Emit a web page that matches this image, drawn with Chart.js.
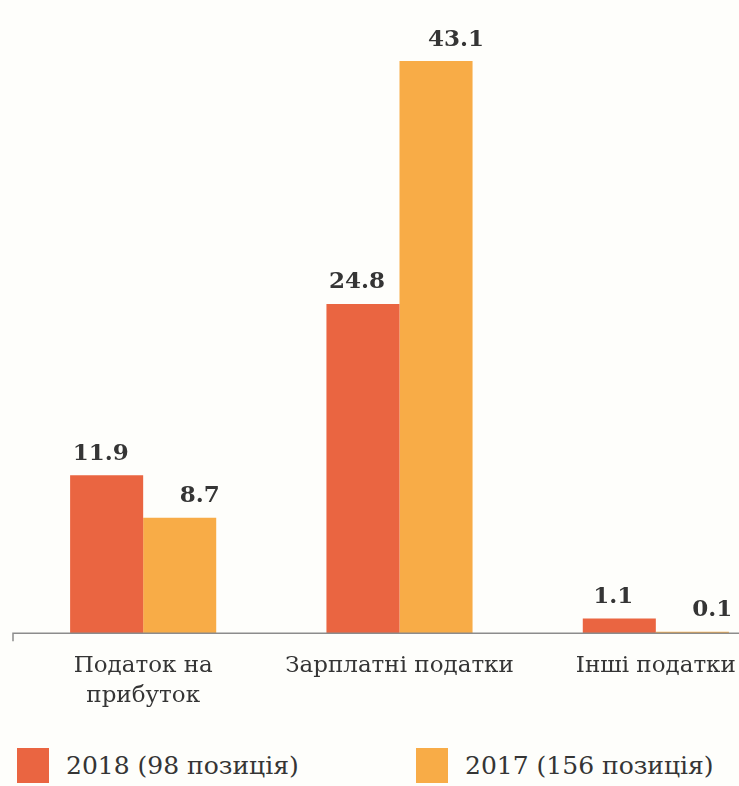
<!DOCTYPE html>
<html>
<head>
<meta charset="utf-8">
<script src="https://cdn.jsdelivr.net/npm/chart.js@4.4.1/dist/chart.umd.min.js"></script>
<style>
  html, body { margin: 0; padding: 0; background: #fefefb; overflow: hidden; width: 739px; height: 786px; }
  #wrap { position: absolute; left: 0; top: 0; width: 784px; height: 724px; }
  #legend { position: absolute; left: 0; top: 747px; width: 739px; height: 38px; }
  .item { position: absolute; top: 0; display: flex; align-items: center; height: 36px;
          font: 25px 'DejaVu Serif', 'Liberation Serif', serif; color: #353535; white-space: nowrap; }
  .box { width: 32px; height: 35px; margin-right: 17px; }
</style>
</head>
<body>
<div id="wrap"><canvas id="taxChart"></canvas></div>
<div id="legend"></div>
<script>
// ─── data ───
const categories = [['Податок на', 'прибуток'], 'Зарплатні податки', 'Інші податки'];
const series2018 = [11.9, 24.8, 1.1];
const series2017 = [8.7, 43.1, 0.1];
const label2018 = '2018 (98 позиція)';
const label2017 = '2017 (156 позиція)';

const textColor = '#353535';
const serif = "'DejaVu Serif', 'Liberation Serif', serif";

// value labels above bars (no datalabels plugin offline)
const valueLabels = {
  id: 'valueLabels',
  afterDatasetsDraw(chart) {
    const ctx = chart.ctx;
    const shift = [-6, 20];
    ctx.save();
    ctx.font = "bold 23px " + serif;
    ctx.fillStyle = textColor;
    ctx.textAlign = 'center';
    ctx.textBaseline = 'bottom';
    chart.data.datasets.forEach((ds, i) => {
      chart.getDatasetMeta(i).data.forEach((bar, j) => {
        ctx.fillText(ds.data[j].toFixed(1), bar.x + shift[i], bar.y - 10);
      });
    });
    ctx.restore();
  }
};

// baseline with small left tick
const baseLine = {
  id: 'baseLine',
  afterDatasetsDraw(chart) {
    const ctx = chart.ctx, a = chart.chartArea;
    const y = chart.scales.y.getPixelForValue(0);
    ctx.save();
    ctx.strokeStyle = '#8c8c8c';
    ctx.lineWidth = 1.5;
    ctx.beginPath();
    ctx.moveTo(13, y + 8);
    ctx.lineTo(13, y);
    ctx.lineTo(a.right + 20, y);
    ctx.stroke();
    ctx.restore();
  }
};

const chart = new Chart(document.getElementById('taxChart'), {
  type: 'bar',
  data: {
    labels: categories,
    datasets: [
      { label: label2018, data: series2018, backgroundColor: '#ea6541' },
      { label: label2017, data: series2017, backgroundColor: '#f8ac47' }
    ]
  },
  options: {
    responsive: true, maintainAspectRatio: false, animation: false,
    layout: { padding: { left: 15, right: 0, top: 0, bottom: 3 } },
    plugins: { legend: { display: false }, tooltip: { enabled: false } },
    datasets: { bar: { categoryPercentage: 0.57, barPercentage: 1.0 } },
    scales: {
      x: {
        grid: { display: false }, border: { display: false },
        ticks: { color: textColor, padding: 10, font: { family: serif, size: 23, lineHeight: 1.3 }, maxRotation: 0 }
      },
      y: { display: false, min: 0, max: 47.7 }
    }
  },
  plugins: [valueLabels, baseLine]
});

// html legend built from the datasets
const legendLeft = [17, 416];
chart.data.datasets.forEach((ds, i) => {
  const item = document.createElement('div');
  item.className = 'item';
  item.style.left = legendLeft[i] + 'px';
  item.innerHTML = '<span class="box" style="background:' + ds.backgroundColor + '"></span>' + ds.label;
  document.getElementById('legend').appendChild(item);
});
</script>
</body>
</html>
